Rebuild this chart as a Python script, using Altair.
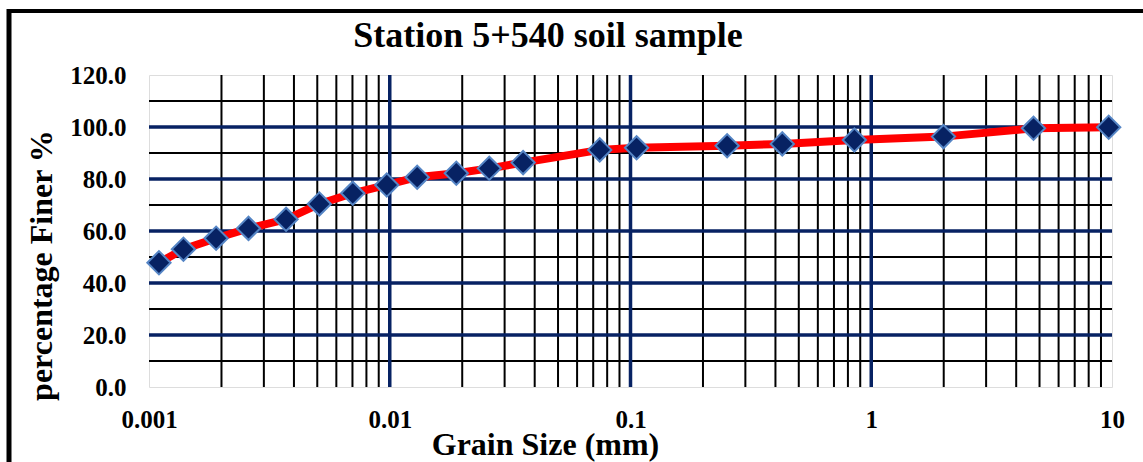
import altair as alt
import pandas as pd

# Data
grain_size = [0.00110, 0.00139, 0.0019, 0.00259, 0.00371, 0.0051, 0.00702, 0.00972,
              0.0130, 0.0189, 0.0259, 0.0358, 0.0745, 0.106, 0.252, 0.427, 0.851,
              1.995, 4.72, 9.69]
percent_finer = [47.8, 53.0, 57.2, 61.0, 64.5, 70.4, 74.5, 77.7, 80.7, 82.2, 84.1,
                 86.3, 91.2, 92.0, 92.8, 93.5, 95.0, 96.3, 99.5, 99.9]

x_tick_labels = [0.001, 0.01, 0.1, 1, 10]
y_tick_labels = [0, 20, 40, 60, 80, 100, 120]
x_major_grid = [0.01, 0.1, 1]
x_minor_grid = [m * d for d in [0.001, 0.01, 0.1, 1] for m in range(2, 10)]
y_major_grid = [20, 40, 60, 80, 100]
y_minor_grid = [10, 30, 50, 70, 90, 110]

NAVY = "#072263"
FONT = "Liberation Serif"

df = pd.DataFrame({"size": grain_size, "finer": percent_finer, "order": range(len(grain_size))})

xscale = alt.Scale(type="log", domain=[0.001, 10], nice=False)
yscale = alt.Scale(domain=[0, 120], nice=False)

x_axis = alt.Axis(values=x_tick_labels, format="~g", grid=False, domain=False, ticks=False,
                  labelFont=FONT, labelFontSize=25, labelFontWeight="bold", labelColor="black",
                  labelPadding=20, labelFlush=False, labelOverlap=False,
                  title="Grain Size (mm)", titleFont=FONT, titleFontSize=32, titleFontWeight="bold",
                  titleColor="black", titleX=396, titleY=67, titleBaseline="alphabetic",
                  titleAnchor="middle", titleAlign="center")
y_axis = alt.Axis(values=y_tick_labels, format=".1f", grid=False, domain=False, ticks=False,
                  labelFont=FONT, labelFontSize=25, labelFontWeight="bold", labelColor="black",
                  labelPadding=23, labelFlush=False, labelOverlap=False,
                  title="percentage Finer %", titleFont=FONT, titleFontSize=32, titleFontWeight="bold",
                  titleColor="black", titleAngle=270, titleX=-108, titleY=190,
                  titleBaseline="middle", titleAlign="center")

ex = alt.X("size:Q", scale=xscale, axis=x_axis)
ey = alt.Y("finer:Q", scale=yscale, axis=y_axis)

line = alt.Chart(df).mark_line(color="#ff0000", strokeWidth=8).encode(
    x=ex, y=ey, order="order:Q")
points = alt.Chart(df).mark_point(shape="diamond", filled=True, size=540, fill=NAVY,
                                  stroke="#5585c5", strokeWidth=2, opacity=1).encode(x=ex, y=ey)

gx = lambda: alt.X("v:Q", scale=xscale, axis=x_axis)
gy = lambda: alt.Y("v:Q", scale=yscale, axis=y_axis)
xminor = alt.Chart(pd.DataFrame({"v": x_minor_grid})).mark_rule(color="black", strokeWidth=2).encode(x=gx())
yminor = alt.Chart(pd.DataFrame({"v": y_minor_grid})).mark_rule(color="black", strokeWidth=2).encode(y=gy())
xmajor = alt.Chart(pd.DataFrame({"v": x_major_grid})).mark_rule(color=NAVY, strokeWidth=3.5).encode(x=gx())
ymajor = alt.Chart(pd.DataFrame({"v": y_major_grid})).mark_rule(color=NAVY, strokeWidth=3.5).encode(y=gy())

one = pd.DataFrame({"a": [0]})
title = alt.Chart(one).mark_text(text="Station 5+540 soil sample", font=FONT, fontSize=36,
                                 fontWeight="bold", color="black", align="center",
                                 baseline="alphabetic").encode(x=alt.value(399), y=alt.value(-28))

# outer figure border (left and top visible)
border_left = alt.Chart(one).mark_rule(color="black", strokeWidth=5).encode(
    x=alt.value(-140), y=alt.value(-66), y2=alt.value(400))
border_top = alt.Chart(one).mark_rule(color="black", strokeWidth=4).encode(
    x=alt.value(-142), x2=alt.value(1000), y=alt.value(-64))

chart = alt.layer(xminor, yminor, xmajor, ymajor, line, points, title, border_left, border_top).properties(
    width=963, height=312,
    autosize=alt.AutoSizeParams(type="none"),
    padding={"left": 149, "top": 75, "right": 31, "bottom": 75},
).configure_view(stroke=NAVY, strokeWidth=3.5).configure(background="white")

chart.save("out.html", embed_options={"renderer": "svg", "actions": False})
